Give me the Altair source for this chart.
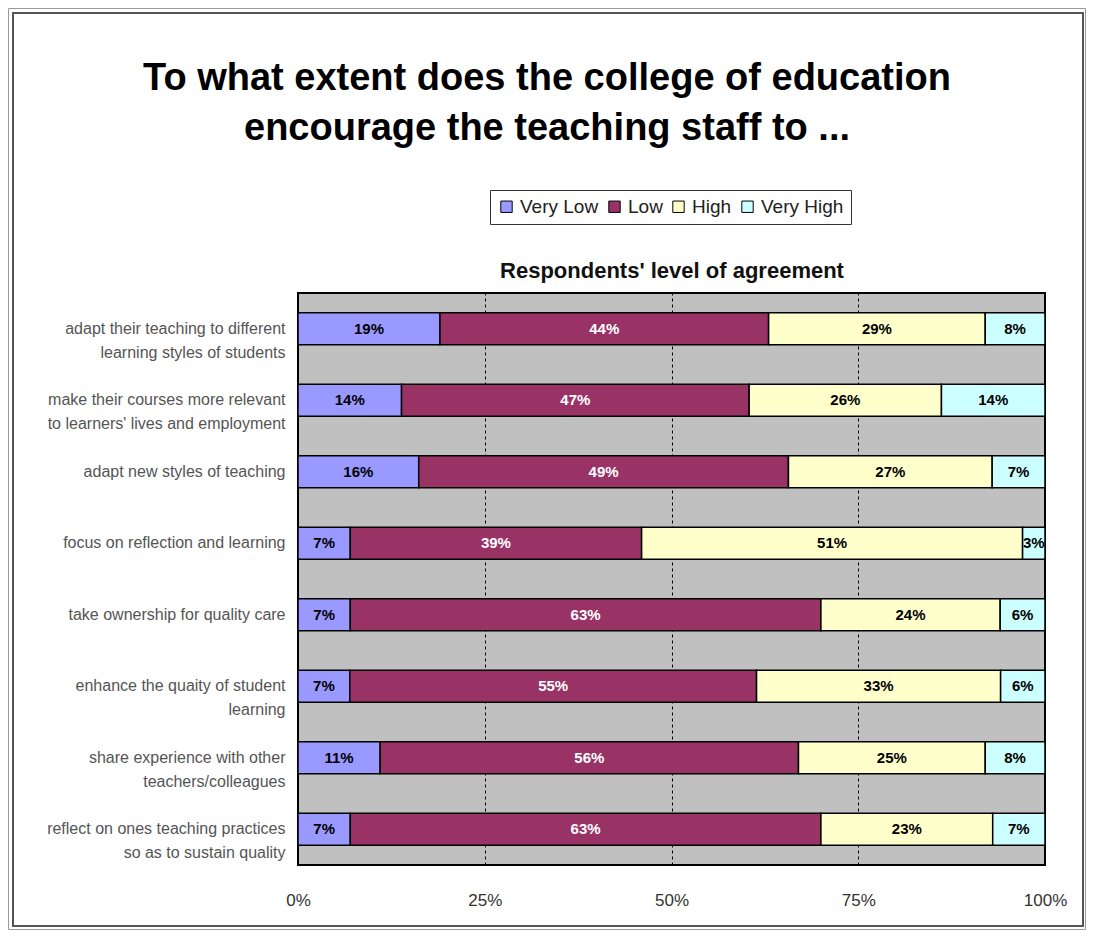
import altair as alt
import pandas as pd

categories = [
    "adapt their teaching to different\nlearning styles of students",
    "make their courses more relevant\nto learners' lives and employment",
    "adapt new styles of teaching",
    "focus on reflection and learning",
    "take ownership for quality care",
    "enhance the quaity of student\nlearning",
    "share experience with other\nteachers/colleagues",
    "reflect on ones teaching practices\nso as to sustain quality",
]
levels = ["Very Low", "Low", "High", "Very High"]
very_low = [19, 14, 16, 7, 7, 7, 11, 7]
low = [44, 47, 49, 39, 63, 55, 56, 63]
high = [29, 26, 27, 51, 24, 33, 25, 23]
very_high = [8, 14, 7, 3, 6, 6, 8, 7]
colors = ["#9999FF", "#993366", "#FFFFCC", "#CCFFFF"]
x_ticks = [0, 25, 50, 75, 100]

rows = []
for i, cat in enumerate(categories):
    vals = [very_low[i], low[i], high[i], very_high[i]]
    total = sum(vals)
    cum = 0
    for j, (lev, v) in enumerate(zip(levels, vals)):
        start = cum / total * 100
        cum += v
        end = cum / total * 100
        rows.append(dict(cat=cat, level=lev, order=j, value=v, start=start,
                         end=end, mid=(start + end) / 2, label=f"{v}%"))
df = pd.DataFrame(rows)

FONT = "Liberation Sans"
x_scale = alt.Scale(domain=[0, 100], nice=False, zero=False)
y_enc = alt.Y(
    "cat:N", sort=categories, title=None,
    scale=alt.Scale(paddingInner=0.55, paddingOuter=0.275),
    axis=alt.Axis(labelExpr="split(datum.value, '\\n')", labelFontSize=16,
                  labelColor="#555555", labelLineHeight=24, labelPadding=13,
                  ticks=False, domain=False, minExtent=280, maxExtent=280,
                  labelLimit=300, labelFont=FONT),
)

# decorative chart-area frame (outer thin line and inner dark line)
frame_df = pd.DataFrame({"k": [0]})
outer_frame = alt.Chart(frame_df).mark_rect(
    fillOpacity=0, stroke="#9a9a9a", strokeWidth=1).encode(
    x=alt.value(-289.5), x2=alt.value(787.5), y=alt.value(-284.5), y2=alt.value(636.5))
inner_frame = alt.Chart(frame_df).mark_rect(
    fillOpacity=0, stroke="#555555", strokeWidth=2).encode(
    x=alt.value(-285), x2=alt.value(785), y=alt.value(-280), y2=alt.value(633))

bars = alt.Chart(df).mark_bar(stroke="black", strokeWidth=1.5).encode(
    x=alt.X("start:Q", scale=x_scale, title=None,
            axis=alt.Axis(values=x_ticks, labelExpr="datum.value + '%'",
                          orient="bottom", grid=True, gridDash=[3, 3],
                          gridColor="black", gridOpacity=1, ticks=False,
                          domain=False, labelFontSize=17, labelPadding=27,
                          labelAlign="center", labelFlush=False,
                          labelColor="#333333", labelFont=FONT)),
    x2="end:Q",
    y=y_enc,
    color=alt.Color("level:N", sort=levels,
                    scale=alt.Scale(domain=levels, range=colors),
                    legend=alt.Legend(title=None, orient="none", direction="horizontal",
                                      legendX=192, legendY=-103,
                                      symbolType="square", symbolSize=130,
                                      symbolStrokeColor="black", symbolStrokeWidth=1,
                                      labelFontSize=19, labelFont=FONT,
                                      labelColor="#222222",
                                      strokeColor="#333333", padding=7,
                                      columnPadding=6, labelOffset=4,
                                      fillColor="white")),
    order="order:Q",
)

texts = alt.Chart(df).mark_text(fontWeight="bold", fontSize=15, font=FONT).encode(
    x=alt.X("mid:Q", scale=x_scale, title="Respondents' level of agreement",
            axis=alt.Axis(orient="top", labels=False, ticks=False, domain=False,
                          grid=False, titleFontSize=22, titleFontWeight="bold",
                          titlePadding=11, titleFont=FONT, titleColor="#111111")),
    y=alt.Y("cat:N", sort=categories),
    text="label:N",
    color=alt.condition(alt.datum.level == "Low", alt.value("white"), alt.value("black")),
)

chart = alt.layer(outer_frame, inner_frame, bars, texts).resolve_axis(
    x="independent").properties(
    width=747, height=572,
    background="white",
    padding={"left": 0, "top": 0, "right": 0, "bottom": 0},
    title=alt.TitleParams(
        text=["To what extent does the college of education",
              "encourage the teaching staff to ..."],
        fontSize=38, fontWeight="bold", font=FONT, anchor="middle",
        frame="bounds", lineHeight=50, offset=-140, color="black"),
).configure_view(fill="#C0C0C0", stroke="black", strokeWidth=2)

chart.save("out.html", embed_options={"renderer": "svg", "actions": False})
